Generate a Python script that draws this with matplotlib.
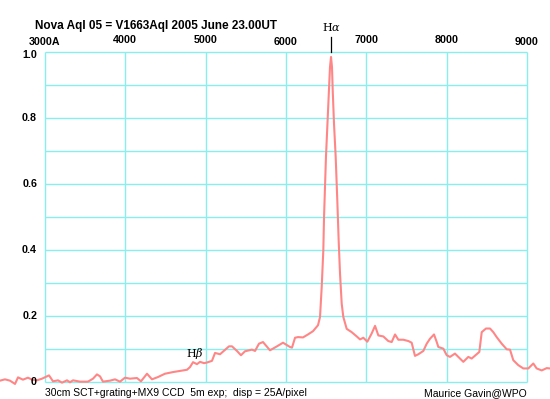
import matplotlib
matplotlib.use("Agg")
import matplotlib.pyplot as plt

plt.rcParams["mathtext.fontset"] = "dejavuserif"

# Spectrum of Nova Aql 05 (V1663 Aql) - wavelength (A) and relative flux
wavelength = [2440, 2502, 2564, 2627, 2664, 2726, 2788, 2838, 2900, 2963,
              3050, 3100, 3162, 3212, 3274, 3311, 3349, 3436, 3535, 3598,
              3647, 3685, 3722, 3809, 3872, 3934, 3996, 4058, 4145, 4195,
              4270, 4332, 4407, 4494, 4594, 4718, 4768, 4805, 4843, 4892,
              4930, 4980, 5017, 5079, 5117, 5179, 5291, 5328, 5390, 5440,
              5490, 5577, 5615, 5664, 5714, 5801, 5888, 5963, 6050, 6075,
              6113, 6150, 6212, 6274, 6337, 6399, 6424, 6445, 6465, 6474,
              6486, 6498, 6515, 6536, 6548, 6561, 6573, 6582, 6598, 6619,
              6639, 6656, 6673, 6694, 6714, 6756, 6818, 6881, 6922, 6963,
              7013, 7067, 7109, 7150, 7212, 7274, 7316, 7358, 7399, 7461,
              7524, 7565, 7606, 7648, 7710, 7752, 7793, 7843, 7877, 7897,
              7959, 8001, 8042, 8104, 8146, 8208, 8270, 8312, 8374, 8407,
              8437, 8490, 8540, 8581, 8623, 8686, 8748, 8789, 8830, 8892,
              8955, 9017, 9079, 9121, 9184, 9246, 9287]
flux = [0.005, 0.009, 0.005, -0.005, 0.015, 0.008, 0.014, 0.008, 0.006, 0.011,
        0.021, 0.003, 0.006, -0.001, 0.006, 0.000, 0.006, 0.002, 0.002, 0.011,
        0.024, 0.018, 0.002, 0.005, 0.009, 0.002, 0.014, 0.011, 0.013, 0.003,
        0.026, 0.009, 0.016, 0.026, 0.031, 0.036, 0.038, 0.046, 0.061, 0.055,
        0.062, 0.058, 0.060, 0.065, 0.089, 0.085, 0.109, 0.109, 0.095, 0.082,
        0.094, 0.099, 0.095, 0.117, 0.122, 0.097, 0.109, 0.120, 0.107, 0.105,
        0.135, 0.137, 0.136, 0.145, 0.155, 0.173, 0.198, 0.289, 0.400, 0.501,
        0.592, 0.683, 0.774, 0.885, 0.955, 0.986, 0.955, 0.885, 0.784, 0.683,
        0.552, 0.430, 0.329, 0.238, 0.198, 0.162, 0.152, 0.139, 0.130, 0.135,
        0.123, 0.148, 0.171, 0.142, 0.139, 0.125, 0.122, 0.145, 0.129, 0.129,
        0.125, 0.120, 0.080, 0.085, 0.095, 0.117, 0.132, 0.145, 0.122, 0.107,
        0.102, 0.082, 0.077, 0.087, 0.077, 0.062, 0.077, 0.072, 0.085, 0.092,
        0.152, 0.163, 0.163, 0.152, 0.137, 0.117, 0.100, 0.099, 0.067, 0.052,
        0.042, 0.042, 0.057, 0.042, 0.036, 0.043, 0.042]

x_ticks = [3000, 4000, 5000, 6000, 7000, 8000, 9000]
x_tick_labels = ["3000A", "4000", "5000", "6000", "7000", "8000", "9000"]
y_ticks = [0.0, 0.2, 0.4, 0.6, 0.8, 1.0]
y_tick_labels = ["0", "0.2", "0.4", "0.6", "0.8", "1.0"]
y_grid = [0.0, 0.1, 0.2, 0.3, 0.4, 0.5, 0.6, 0.7, 0.8, 0.9, 1.0]

title = "Nova Aql 05 = V1663Aql 2005 June 23.00UT"
footer_left = "30cm SCT+grating+MX9 CCD  5m exp;  disp = 25A/pixel"
footer_right = "Maurice Gavin@WPO"
line_ha = 6563
line_hb_label_x = 4860

fig = plt.figure(figsize=(5.5, 3.99), dpi=100)
ax = fig.add_axes([0, 0, 1, 1])
ax.set_xlim(2440, 9287)
ax.set_ylim(-0.0506, 1.1585)
ax.axis("off")

grid_c = "#88eeee"
ax.vlines(x_ticks, 0, 1.0, color=grid_c, lw=1.0, zorder=1)
ax.hlines(y_grid, x_ticks[0], x_ticks[-1], color=grid_c, lw=1.0, zorder=1)

ax.plot(wavelength, flux, color="#ff8686", lw=1.5, zorder=3, solid_joinstyle="round")

# Halpha marker
ax.plot([line_ha, line_ha], [1.0, 1.046], color="black", lw=0.9, zorder=4)
ax.text(line_ha, 1.078, "H$\\alpha$", ha="center", va="center", fontsize=8,
        family="DejaVu Serif")
ax.text(line_hb_label_x, 0.088, "H$\\beta$", ha="center", va="center", fontsize=8,
        family="DejaVu Serif")

# x labels (staggered like the original)
for i, (xv, lab) in enumerate(zip(x_ticks, x_tick_labels)):
    dy = 0.0 if i in (0, 3, 6) else 0.005
    ax.text(xv, 1.017 + dy, lab, ha="center", va="bottom", fontsize=7.7,
            fontweight="bold", family="Liberation Sans")

for yv, lab in zip(y_ticks, y_tick_labels):
    ax.text(2440 + 37 * 12.45, yv - (0.008 if yv == 1.0 else 0.0), lab,
            ha="right", va="center", fontsize=7.7, fontweight="bold",
            family="Liberation Sans")

ax.text(2440 + 35 * 12.45, 1.0806, title, ha="left", va="center", fontsize=8.5,
        fontweight="bold", family="Liberation Sans")
ax.text(3000, -0.033, footer_left, ha="left", va="center", fontsize=7.5,
        family="Liberation Sans")
ax.text(9000, -0.033, footer_right, ha="right", va="center", fontsize=7.5,
        family="Liberation Sans")

fig.savefig("out.png", dpi=100, facecolor="white")
